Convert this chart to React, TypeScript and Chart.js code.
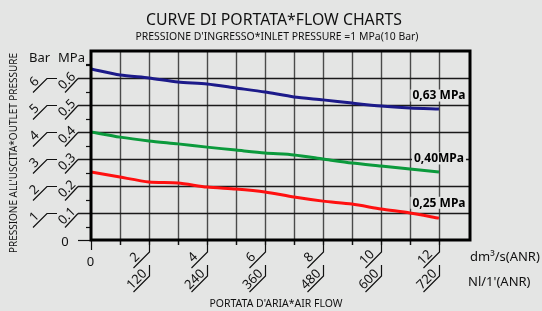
import React, { useEffect, useRef } from "react";
import { Chart, registerables } from "chart.js";

Chart.register(...registerables);

const flowUnits = [0, 1, 2, 3, 4, 5, 6, 7, 8, 9, 10, 11, 12];
const series063 = [0.633, 0.611, 0.6, 0.585, 0.578, 0.563, 0.548, 0.53, 0.519, 0.507, 0.496, 0.489, 0.485];
const series040 = [0.4, 0.381, 0.367, 0.356, 0.344, 0.333, 0.322, 0.315, 0.3, 0.285, 0.274, 0.263, 0.252];
const series025 = [0.252, 0.233, 0.215, 0.211, 0.196, 0.189, 0.178, 0.159, 0.144, 0.133, 0.115, 0.1, 0.081];
const seriesLabels = ["0,63 MPa", "0,40MPa", "0,25 MPa"];
const seriesColors = ["#1c1a8a", "#0b9a3c", "#ff1010"];
const mpaTicks = [0.1, 0.2, 0.3, 0.4, 0.5, 0.6];
const mpaTickLabels = ["0.1", "0.2", "0.3", "0.4", "0.5", "0.6"];
const barTickLabels = ["1", "2", "3", "4", "5", "6"];
const flowTicks = [2, 4, 6, 8, 10, 12];
const flowTickLabels = ["2", "4", "6", "8", "10", "12"];
const nlTickLabels = ["120", "240", "360", "480", "600", "720"];

const BG = "#e4e5e4";
const FONT = "'Noto Sans', 'DejaVu Sans', sans-serif";

const decorPlugin = {
  id: "decor",
  beforeDraw(chart: any) {
    const { ctx, width, height } = chart;
    ctx.save();
    ctx.fillStyle = BG;
    ctx.fillRect(0, 0, width, height);
    ctx.restore();
  },
  beforeDatasetsDraw(chart: any) {
    const { ctx, chartArea: a, scales } = chart;
    const xs = scales.x;
    const ys = scales.y;
    ctx.save();
    ctx.strokeStyle = "#4a4a4a";
    ctx.lineWidth = 1.4;
    for (let u = 1; u <= 13; u++) {
      const x = Math.round(xs.getPixelForValue(u)) + 0.5;
      if (x >= a.right - 2) continue;
      ctx.beginPath();
      ctx.moveTo(x, a.top);
      ctx.lineTo(x, a.bottom + 5);
      ctx.stroke();
    }
    ctx.strokeStyle = "#1a1a1a";
    for (let i = 0; i < mpaTicks.length; i++) {
      const y = Math.round(ys.getPixelForValue(mpaTicks[i])) + 0.5;
      ctx.beginPath();
      ctx.moveTo(a.left - 13, y);
      ctx.lineTo(a.right, y);
      ctx.stroke();
    }
    ctx.restore();
  },
  afterDatasetsDraw(chart: any) {
    const { ctx, chartArea: a, scales, width } = chart;
    const xs = scales.x;
    const ys = scales.y;
    ctx.save();
    ctx.strokeStyle = "#111";
    ctx.fillStyle = "#111";
    ctx.lineWidth = 1.2;

    for (let v = 0.05; v < 0.7; v += 0.1) {
      const y = Math.round(ys.getPixelForValue(v)) + 0.5;
      ctx.beginPath();
      ctx.moveTo(a.left - 5, y);
      ctx.lineTo(a.left, y);
      ctx.stroke();
    }
    const y0 = Math.round(ys.getPixelForValue(0)) + 0.5;
    ctx.beginPath();
    ctx.moveTo(a.left - 13, y0);
    ctx.lineTo(a.left, y0);
    ctx.stroke();

    ctx.font = `13px ${FONT}`;
    ctx.textAlign = "center";
    ctx.textBaseline = "alphabetic";
    for (let i = 0; i < mpaTicks.length; i++) {
      const y = Math.round(ys.getPixelForValue(mpaTicks[i])) + 0.5;
      const mx1 = a.left - 13;
      const mx2 = mx1 - 13;
      ctx.beginPath();
      ctx.moveTo(mx1, y);
      ctx.lineTo(mx2, y + 14);
      ctx.stroke();
      ctx.save();
      ctx.translate((mx1 + mx2) / 2, y + 7);
      ctx.rotate(-Math.PI / 4);
      ctx.fillText(mpaTickLabels[i], 0, -2.5);
      ctx.restore();
      const bx1 = a.left - 44;
      const bx2 = bx1 - 14;
      ctx.beginPath();
      ctx.moveTo(a.left - 34, y);
      ctx.lineTo(bx1, y);
      ctx.lineTo(bx2, y + 14);
      ctx.stroke();
      ctx.save();
      ctx.translate((bx1 + bx2) / 2 - 1, y + 8);
      ctx.rotate(-Math.PI / 4);
      ctx.fillText(barTickLabels[i], 0, -2.5);
      ctx.restore();
    }
    ctx.textBaseline = "middle";
    ctx.fillText("0", a.left - 26, y0 + 2);
    ctx.textAlign = "left";
    ctx.fillText("Bar", a.left - 62, ys.getPixelForValue(0.672));
    ctx.fillText("MPa", a.left - 33, ys.getPixelForValue(0.672));
    ctx.beginPath();
    ctx.moveTo(a.left - 5, Math.round(ys.getPixelForValue(0.65)) + 0.5);
    ctx.lineTo(a.left, Math.round(ys.getPixelForValue(0.65)) + 0.5);
    ctx.stroke();

    const yb = a.bottom;
    for (let u = 1; u <= 12; u += 2) {
      const x = Math.round(xs.getPixelForValue(u)) + 0.5;
      ctx.beginPath();
      ctx.moveTo(x, yb);
      ctx.lineTo(x, yb + 5);
      ctx.stroke();
    }
    const x0 = Math.round(xs.getPixelForValue(0)) + 0.5;
    ctx.beginPath();
    ctx.moveTo(x0, yb);
    ctx.lineTo(x0, yb + 10);
    ctx.stroke();
    ctx.textAlign = "center";
    ctx.textBaseline = "middle";
    ctx.fillText("0", x0 - 1, yb + 22);
    ctx.textBaseline = "alphabetic";
    for (let i = 0; i < flowTicks.length; i++) {
      const x = Math.round(xs.getPixelForValue(flowTicks[i])) + 0.5;
      ctx.beginPath();
      ctx.moveTo(x, yb);
      ctx.lineTo(x, yb + 12);
      ctx.lineTo(x - 16, yb + 28);
      ctx.stroke();
      ctx.save();
      ctx.translate(x - 10, yb + 22);
      ctx.rotate(-Math.PI / 4);
      ctx.fillText(flowTickLabels[i], 0, -2.5);
      ctx.restore();
      ctx.beginPath();
      ctx.moveTo(x, yb + 25);
      ctx.lineTo(x, yb + 36);
      ctx.lineTo(x - 16, yb + 52);
      ctx.stroke();
      ctx.save();
      ctx.translate(x - 8, yb + 44);
      ctx.rotate(-Math.PI / 4);
      ctx.fillText(nlTickLabels[i], 0, -2.5);
      ctx.restore();
    }

    ctx.lineWidth = 3;
    ctx.strokeStyle = "#000";
    ctx.strokeRect(a.left, a.top, a.right - a.left, a.bottom - a.top);

    ctx.font = `bold 12px ${FONT}`;
    ctx.textAlign = "center";
    const lblX = xs.getPixelForValue(12);
    const lblVals = [0.535, 0.302, 0.138];
    for (let i = 0; i < seriesLabels.length; i++) {
      const y = ys.getPixelForValue(lblVals[i]);
      const w = Math.min(ctx.measureText(seriesLabels[i]).width, 54);
      ctx.fillStyle = BG;
      ctx.fillRect(lblX - w / 2 - 2, y - 6, w + 4, 12);
      ctx.fillStyle = "#000";
      ctx.textBaseline = "middle";
      ctx.fillText(seriesLabels[i], lblX, y + 0.5, 54);
    }

    ctx.fillStyle = "#111";
    ctx.textBaseline = "middle";
    ctx.textAlign = "center";
    ctx.font = `17px ${FONT}`;
    ctx.fillText("CURVE DI PORTATA*FLOW CHARTS", 274, 20, 256);
    ctx.font = `10.5px ${FONT}`;
    ctx.fillText("PRESSIONE D'INGRESSO*INLET PRESSURE =1 MPa(10 Bar)", 277, 37, 283);
    ctx.fillText("PORTATA D'ARIA*AIR FLOW", 276, 304, 133);
    ctx.save();
    ctx.translate(14, 153);
    ctx.rotate(-Math.PI / 2);
    ctx.fillText("PRESSIONE ALL'USCITA*OUTLET PRESSURE", 0, 0, 200);
    ctx.restore();
    ctx.font = `13px ${FONT}`;
    ctx.textAlign = "left";
    ctx.fillText("dm³/s(ANR)", width - 72, 257, 70);
    ctx.fillText("Nl/1'(ANR)", width - 74, 282, 70);
    ctx.restore();
  },
};

export default function App() {
  const ref = useRef<HTMLCanvasElement | null>(null);
  useEffect(() => {
    document.body.style.margin = "0";
    const canvas = ref.current;
    if (!canvas) return;
    const mk = (vals: number[]) => flowUnits.map((x, i) => ({ x, y: vals[i] }));
    const chart = new Chart(canvas, {
      type: "line",
      data: {
        datasets: [series063, series040, series025].map((vals, i) => ({
          label: seriesLabels[i],
          data: mk(vals),
          borderColor: seriesColors[i],
          borderWidth: 3,
          pointRadius: 0,
          tension: 0.25,
          fill: false,
        })),
      },
      options: {
        responsive: false,
        animation: false,
        events: [],
        layout: { padding: { left: 91, top: 51, right: 72, bottom: 71 } },
        plugins: { legend: { display: false }, tooltip: { enabled: false } },
        scales: {
          x: { type: "linear", min: 0, max: 13.07, display: false },
          y: { type: "linear", min: 0, max: 0.7, display: false },
        },
      },
      plugins: [decorPlugin],
    });
    return () => chart.destroy();
  }, []);
  return (
    <div style={{ position: "absolute", left: 0, top: 0, width: 542, height: 311 }}>
      <canvas ref={ref} width={542} height={311} style={{ width: 542, height: 311 }} />
    </div>
  );
}
